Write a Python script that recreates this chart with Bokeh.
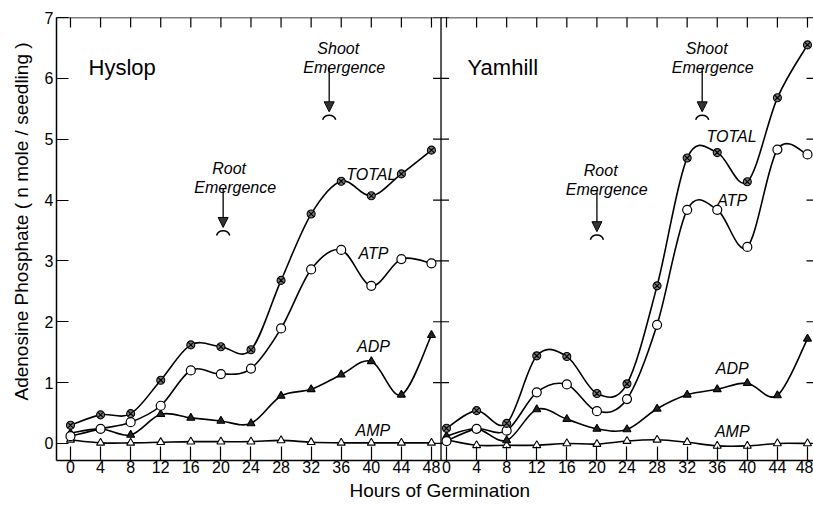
import numpy as np
from bokeh.plotting import figure
from bokeh.models import (Range1d, LinearAxis, FixedTicker, Span, Label, Arrow, NormalHead, Title)
from bokeh.embed import file_html
from bokeh.resources import INLINE

# ---------------- data ----------------
hours = [0, 4, 8, 12, 16, 20, 24, 28, 32, 36, 40, 44, 48]

hyslop_total = [0.30, 0.47, 0.49, 1.04, 1.62, 1.59, 1.54, 2.68, 3.77, 4.31, 4.07, 4.43, 4.82]
hyslop_atp   = [0.12, 0.24, 0.35, 0.62, 1.20, 1.14, 1.23, 1.89, 2.86, 3.18, 2.59, 3.03, 2.96]
hyslop_adp   = [0.17, 0.24, 0.14, 0.48, 0.42, 0.37, 0.33, 0.78, 0.89, 1.13, 1.35, 0.80, 1.78]
hyslop_amp   = [0.06, 0.01, 0.01, 0.02, 0.03, 0.03, 0.03, 0.05, 0.02, 0.01, 0.01, 0.01, 0.01]

yamhill_total = [0.25, 0.54, 0.33, 1.44, 1.43, 0.82, 0.98, 2.59, 4.69, 4.78, 4.30, 5.68, 6.55]
yamhill_atp   = [0.04, 0.24, 0.21, 0.84, 0.97, 0.53, 0.73, 1.95, 3.84, 3.84, 3.23, 4.83, 4.75]
yamhill_adp   = [0.12, 0.24, 0.05, 0.56, 0.40, 0.24, 0.23, 0.57, 0.80, 0.89, 0.99, 0.79, 1.72]
yamhill_amp   = [0.06, -0.03, -0.03, -0.03, 0.00, -0.01, 0.04, 0.06, 0.02, -0.04, -0.04, 0.00, 0.00]

y_ticks = [0, 1, 2, 3, 4, 5, 6, 7]
panel_names = ["Hyslop", "Yamhill"]
root_emergence_h = [20.3, 20.0]
shoot_emergence_h = [34.4, 34.0]

# ---------------- layout ----------------
PANEL_OFFSET = 50          # right panel drawn at hours + 50 on the shared x scale
DIVIDER = 49.27
X_MIN, X_MAX = -1.86, 98.8
Y_MIN, Y_MAX = -0.28, 7.0

p = figure(width=813, height=507, output_backend="svg", toolbar_location=None,
           x_range=Range1d(X_MIN, X_MAX), y_range=Range1d(Y_MIN, Y_MAX),
           min_border_left=55, min_border_right=0, min_border_top=17, min_border_bottom=47,
           x_axis_type=None, y_axis_type=None)
p.outline_line_color = None
p.grid.visible = False
p.background_fill_color = "white"
p.border_fill_color = "white"

FONT = "Liberation Sans"

all_x_ticks = hours + [h + PANEL_OFFSET for h in hours]
overrides = {h: str(h) for h in hours}
overrides.update({h + PANEL_OFFSET: str(h) for h in hours})

# bottom axis
xb = LinearAxis(ticker=FixedTicker(ticks=all_x_ticks), major_label_overrides=overrides,
                major_tick_in=14, major_tick_out=0, minor_tick_line_color=None,
                major_label_standoff=0, major_label_text_font=FONT,
                major_label_text_font_size="16px", major_label_text_color="black",
                axis_line_width=1.5, major_tick_line_width=1.2)
p.add_layout(xb, "below")

# left axis
yl = LinearAxis(ticker=FixedTicker(ticks=y_ticks), major_tick_in=12, major_tick_out=0,
                minor_tick_line_color=None, major_label_standoff=3,
                major_label_text_font=FONT, major_label_text_font_size="16px",
                major_label_text_color="black", axis_line_width=1.5, major_tick_line_width=1.2)
p.add_layout(yl, "left")

# axis titles (as side titles so they can be positioned along the side)
p.add_layout(Title(text="Hours  of  Germination", align="left", offset=293,
                   text_font=FONT, text_font_size="19px", text_font_style="normal",
                   text_color="black", vertical_align="bottom", standoff=4), "below")
p.add_layout(Title(text="Adenosine  Phosphate  ( n mole / seedling )", align="left", offset=60,
                   text_font=FONT, text_font_size="19px", text_font_style="normal",
                   text_color="black", vertical_align="middle", standoff=18), "left")

# top edge line and its inward ticks (half of each dash is clipped by the frame)
p.add_layout(Span(location=Y_MAX, dimension="width", line_color="black", line_width=1.5))
p.scatter(x=all_x_ticks, y=[Y_MAX] * len(all_x_ticks), marker="dash", angle=np.pi / 2,
          size=20, line_color="black", line_width=1.2)
# right edge inward ticks
p.scatter(x=[X_MAX] * len(y_ticks), y=y_ticks, marker="dash", size=14,
          line_color="black", line_width=1.2)

# divider between panels with ticks on both sides
p.add_layout(Span(location=DIVIDER, dimension="height", line_color="black", line_width=1.3))
p.scatter(x=[DIVIDER] * len(y_ticks), y=y_ticks, marker="dash", size=16,
          line_color="black", line_width=1.2)


def spline(p, xs, ys):
    xs = np.asarray(xs, float)
    ys = np.asarray(ys, float)
    n = len(xs)
    x0, y0, x1, y1, cx0, cy0, cx1, cy1 = [], [], [], [], [], [], [], []
    for i in range(n - 1):
        a = max(i - 1, 0)
        d = min(i + 2, n - 1)
        x0.append(xs[i]); y0.append(ys[i]); x1.append(xs[i + 1]); y1.append(ys[i + 1])
        cx0.append(xs[i] + (xs[i + 1] - xs[a]) / 6); cy0.append(ys[i] + (ys[i + 1] - ys[a]) / 6)
        cx1.append(xs[i + 1] - (xs[d] - xs[i]) / 6); cy1.append(ys[i + 1] - (ys[d] - ys[i]) / 6)
    p.bezier(x0=x0, y0=y0, x1=x1, y1=y1, cx0=cx0, cy0=cy0, cx1=cx1, cy1=cy1,
             line_color="black", line_width=1.6)


panels = [
    (0, hyslop_total, hyslop_atp, hyslop_adp, hyslop_amp),
    (PANEL_OFFSET, yamhill_total, yamhill_atp, yamhill_adp, yamhill_amp),
]

for off, tot, atp, adp, amp in panels:
    xs = [h + off for h in hours]
    for series in (tot, atp, adp, amp):
        spline(p, xs, series)
    p.scatter(xs, amp, marker="triangle", size=8, fill_color="white", line_color="black", line_width=1.1)
    p.scatter(xs, adp, marker="triangle", size=8, fill_color="#222222", line_color="black", line_width=1.1)
    p.scatter(xs, atp, marker="circle", size=9, fill_color="white", line_color="black", line_width=1.2)
    p.scatter(xs, tot, marker="circle_x", size=8, fill_color="#777777", line_color="black", line_width=1.1)

# ---------------- annotations ----------------
ital = dict(text_font=FONT, text_font_style="italic", text_font_size="16px",
            text_color="black", text_align="center", text_baseline="middle")

p.add_layout(Label(x=2.4, y=6.18, text=panel_names[0], text_font=FONT, text_font_size="22px",
                   text_color="black", text_baseline="middle"))
p.add_layout(Label(x=2.8 + PANEL_OFFSET, y=6.18, text=panel_names[1], text_font=FONT,
                   text_font_size="22px", text_color="black", text_baseline="middle"))

series_labels = [
    ("TOTAL", 40.0, 4.42), ("ATP", 40.3, 3.12), ("ADP", 40.3, 1.59), ("AMP", 40.2, 0.21),
    ("TOTAL", 37.9 + PANEL_OFFSET, 5.04), ("ATP", 38.0 + PANEL_OFFSET, 3.99),
    ("ADP", 38.0 + PANEL_OFFSET, 1.23), ("AMP", 38.0 + PANEL_OFFSET, 0.20),
]
for t, x, y in series_labels:
    p.add_layout(Label(x=x, y=y, text=t, **ital))

# emergence markers: (name, text centre x, arrow x, top text y, arrow top, arrow bottom)
events = [
    ("Root", 21.9, root_emergence_h[0], 4.52, 4.20, 3.55),
    ("Shoot", 36.4, shoot_emergence_h[0], 6.49, 6.18, 5.45),
    ("Root", 21.3 + PANEL_OFFSET, root_emergence_h[1] + PANEL_OFFSET, 4.49, 4.15, 3.48),
    ("Shoot", 35.4 + PANEL_OFFSET, shoot_emergence_h[1] + PANEL_OFFSET, 6.49, 6.18, 5.45),
]
for nm, tx, ax, ty, a0, a1 in events:
    p.add_layout(Label(x=tx - 0.8, y=ty, text=nm, **ital))
    p.add_layout(Label(x=tx, y=ty - 0.31, text="Emergence", **ital))
    p.add_layout(Arrow(x_start=ax, y_start=a0, x_end=ax, y_end=a1, line_width=1.3,
                       end=NormalHead(size=10, fill_color="#333333", line_color="black", line_width=1)))
    p.arc(x=[ax], y=[a1 - 0.17], radius=7, radius_units="screen",
          start_angle=0.35, end_angle=np.pi - 0.35, line_color="black", line_width=1.5)

open("out.html", "w").write(file_html(p, INLINE))
